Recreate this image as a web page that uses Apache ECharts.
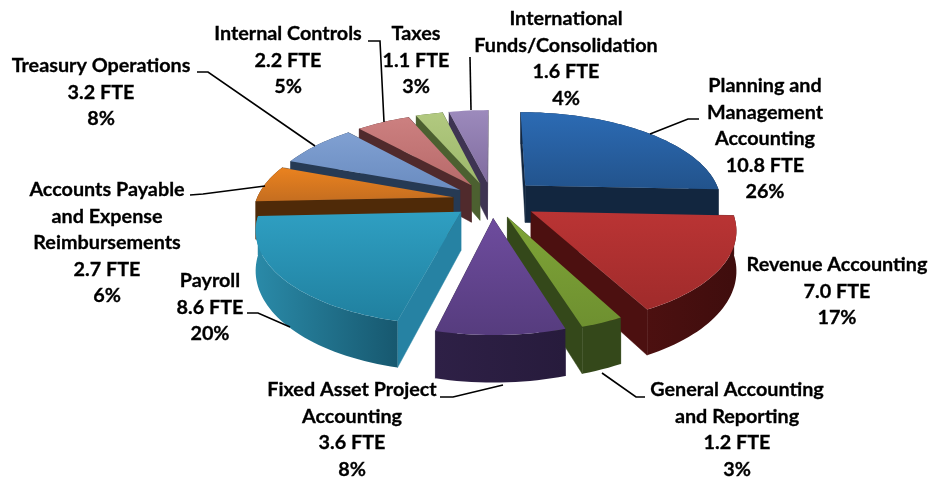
<!DOCTYPE html>
<html><head><meta charset="utf-8">
<style>html,body{margin:0;padding:0;background:#fff}#c{width:928px;height:478px}</style>
<script src="https://cdn.jsdelivr.net/npm/echarts@6/dist/echarts.min.js"></script>
</head><body><div id="c"></div>
<script>
// ---- data ----
const categories = ['Planning and\nManagement\nAccounting','Revenue Accounting','General Accounting\nand Reporting','Fixed Asset Project\nAccounting','Payroll','Accounts Payable\nand Expense\nReimbursements','Treasury Operations','Internal Controls','Taxes','International\nFunds/Consolidation'];
const fte = [10.8,7.0,1.2,3.6,8.6,2.7,3.2,2.2,1.1,1.6];
const pct = [26,17,3,8,20,6,8,5,3,4];
// ---- styles ----
const topColors = [['#2c6bb4','#22538c'],['#ba3434','#a02b2b'],['#7fa437','#6e9030'],['#6e4c9e','#563c7e'],['#2f9fc2','#20809f'],['#ea821f','#c56e20'],['#80a0d2','#6a8cc0'],['#cc8080','#b86a6a'],['#b2c980','#9cb86a'],['#9c8abc','#806c9f']];
const wallColors = ['#12263f','#4c1010','#34481a','#2e2046','#2682a3','#4f2a08','#263a54','#502a2c','#4c6030','#3e3452'];
const outerWallColors = [['#12263f','#12263f'],['#4c1010','#3f0d0d'],['#34481a','#34481a'],['#2e2046','#271b3c'],['#2a8aa8','#17586f'],['#4f2a08','#4f2a08'],['#263a54','#263a54'],['#502a2c','#502a2c'],['#4c6030','#4c6030'],['#3e3452','#3e3452']];
// ---- layout ----
const geo = {cx:492, cy:200, R:197, Ry:90, k:0.167, h:38};
const explode = [0.24,0.23,0.2,0.2,0.2,0.2,0.2,0.2,0.2,0.2];
const drawOrder = [0,9,8,7,6,5,4,1,3,2];
const labelLayout = [[765,86],[837,265],[737,390],[352,390],[210,281],[107,190],[101,66],[288,34],[416,34],[566,19]];
const lineHeight = 26.4;
const leaders = [[[650,134],[688,119],[699,119]],[],[[602,373],[636,397],[645,397]],[[503,385],[453,397],[440,397]],[[290,327],[258,313],[247,313]],[[265,186],[203,194],[190,195]],[[315,146],[208,72],[197,72]],[[384,122],[380,41],[368,41]],[[471,110],[470,57]],[]];

const total = fte.reduce((a,b)=>a+b,0);
const starts = []; let acc = 0;
fte.forEach(v=>{starts.push(acc/total*Math.PI*2); acc+=v;});

function proj(u,v,z){
  const s = 1/(1-geo.k*v);
  return [geo.cx+geo.R*u*s, geo.cy+geo.Ry*v*s+geo.h*z*s];
}
function renderItem(params, api){
  const i = api.value(1);
  const a0 = starts[i], a1 = a0 + api.value(0)/total*Math.PI*2, m=(a0+a1)/2;
  const ox = explode[i]*Math.sin(m), oy = -explode[i]*Math.cos(m);
  const pt = (a,r,z)=>proj(ox+r*Math.sin(a), oy-r*Math.cos(a), z);
  const n = Math.max(4,Math.ceil((a1-a0)/0.03));
  const arc = z=>{const p=[];for(let j=0;j<=n;j++)p.push(pt(a0+(a1-a0)*j/n,1,z));return p;};
  const topPts = [pt(0,0,0)].concat(arc(0));
  const wall = wallColors[i];
  const children = [];
  const poly = (points,fill,z2,stroke)=>children.push({type:'polygon',shape:{points},z2,style:{fill,stroke:stroke||null,lineWidth:stroke?0.5:0}});
  const quad=(a,ra,b,rb)=>[pt(a,ra,0),pt(b,rb,0),pt(b,rb,1),pt(a,ra,1)];
  const walls=[a0,a1].map(a=>({a,d:-Math.cos(a)})).sort((p,q)=>p.d-q.d);
  let z=1;
  walls.forEach(w=>poly(quad(0,0,w.a,1),wall,z++,wall));
  if(Math.cos(m)<0.95){
    const outer = arc(0).concat(arc(1).reverse());
    poly(outer,new echarts.graphic.LinearGradient(0,0,1,0,[{offset:0,color:outerWallColors[i][0]},{offset:1,color:outerWallColors[i][1]}]),z++);
  }
  poly(topPts,new echarts.graphic.LinearGradient(0,0,0,1,[{offset:0,color:topColors[i][0]},{offset:1,color:topColors[i][1]}]),20);
  if(leaders[i].length) children.push({type:'polyline',shape:{points:leaders[i]},z2:25,style:{stroke:'#000',lineWidth:1.6,fill:null}});
  const lines = (categories[i]+'\n'+fte[i].toFixed(1)+' FTE\n'+pct[i]+'%').split('\n');
  lines.forEach((t,j)=>children.push({type:'text',z2:30,style:{text:t,x:labelLayout[i][0],y:labelLayout[i][1]+j*lineHeight,align:'center',verticalAlign:'middle',fontFamily:'Lato',fontWeight:700,fontSize:19.8,fill:'#000',stroke:'#000',lineWidth:0.3}}));
  return {type:'group',children};
}
const chart = echarts.init(document.getElementById('c'),null,{renderer:'canvas'});
chart.setOption({
  animation:false,
  xAxis:{show:false,min:0,max:1},yAxis:{show:false,min:0,max:1},
  grid:{left:0,right:0,top:0,bottom:0},
  series:[{type:'custom',renderItem,clip:false,silent:true,data:drawOrder.map(i=>[fte[i],i])}]
});
</script></body></html>
